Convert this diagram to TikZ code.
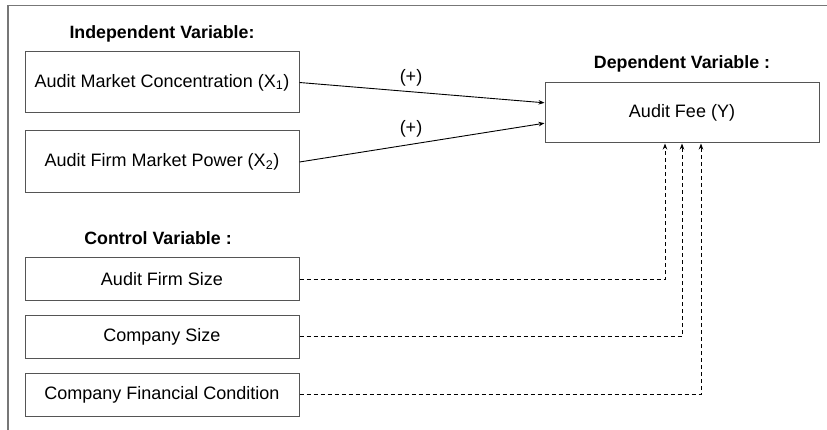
\documentclass[tikz,border=0pt]{standalone}
\usepackage{fontspec}
\setmainfont{Liberation Sans}
\usetikzlibrary{arrows.meta,calc}
\definecolor{boxgray}{HTML}{555555}
\definecolor{framegray}{HTML}{777777}
\tikzset{
  vbox/.style={draw=boxgray, line width=1pt, minimum width=274pt, inner sep=0pt,
    font=\fontsize{18}{20}\selectfont},
  title/.style={anchor=base, inner sep=0pt, font=\fontsize{17.8}{20}\selectfont\bfseries},
  sign/.style={inner sep=0pt, font=\fontsize{18}{20}\selectfont},
  solidarrow/.style={line width=0.9pt, -{Stealth[length=6pt,width=4.5pt]}},
  dasharrow/.style={line width=0.9pt, dash pattern=on 4pt off 3pt, -{Stealth[length=6pt,width=4.5pt]}},
}
\begin{document}
\begin{tikzpicture}[x=1pt,y=-1pt]
\useasboundingbox (0,0) rectangle (827,430);
\draw[framegray, line width=1.2pt] (8,430) -- (8,5.5) -- (827,5.5);

\node[title] (tind) at (162,39) {Independent Variable:};
\node[title] (tdep) at (682,69) {Dependent Variable :};
\node[title] (tctl) at (158,245) {Control Variable :};

\node[vbox, minimum height=61pt] (b1) at (162,82.5) {Audit Market Concentration (X\textsubscript{1})};
\node[vbox, minimum height=62pt] (b2) at (162,162) {Audit Firm Market Power (X\textsubscript{2})};
\node[vbox, minimum height=43pt] (b3) at (162,279.5) {Audit Firm Size};
\node[vbox, minimum height=43pt] (b4) at (162,336.5) {Company Size};
\node[vbox, minimum height=43pt] (b5) at (162,394.5) {Company Financial Condition};

\node[vbox, minimum height=60pt] (fee) at (682,113) {Audit Fee (Y)};

\coordinate (in1) at ($(fee.north west)!0.333!(fee.south west)$);
\coordinate (in2) at ($(fee.north west)!0.667!(fee.south west)$);
\draw[solidarrow] (b1.east) -- (in1);
\draw[solidarrow] (b2.east) -- (in2);
\node[sign] (s1) at (411,78) {(+)};
\node[sign] (s2) at (411,129) {(+)};

\coordinate (c1) at ($(fee.south)+(-17,0)$);
\coordinate (c2) at (fee.south);
\coordinate (c3) at ($(fee.south)+(19,0)$);
\draw[dasharrow] (b3.east) -| (c1);
\draw[dasharrow] (b4.east) -| (c2);
\draw[dasharrow] (b5.east) -| (c3);
\end{tikzpicture}
\end{document}
